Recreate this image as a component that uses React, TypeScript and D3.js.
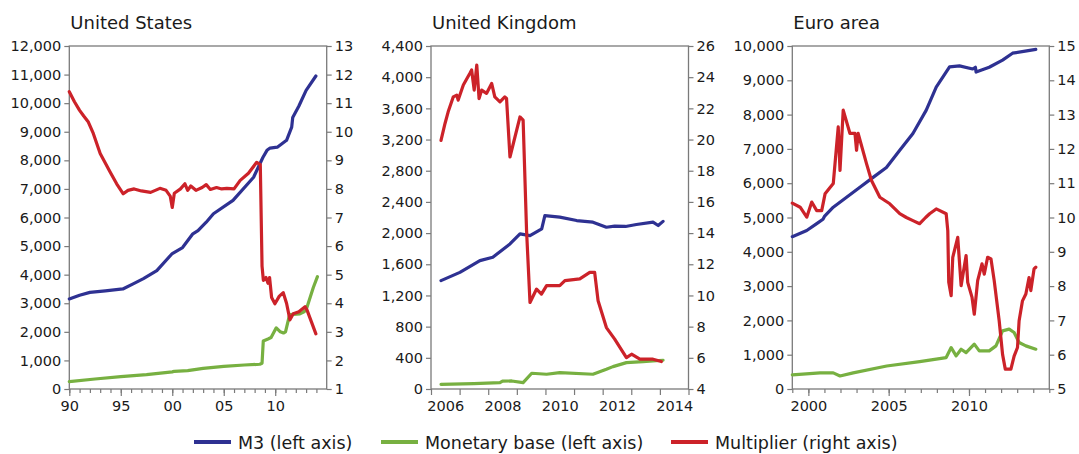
import * as d3 from "d3";
import React, { useEffect, useRef } from "react";

type Pt = [number, number];

// United States: M3 and monetary base (left axis), multiplier (right axis)
const usM3: Pt[] = [
  [1990, 3150], [1991, 3280], [1992, 3380], [1993.5, 3430], [1995.2, 3500], [1996.2, 3680],
  [1997.2, 3860], [1998.5, 4140], [2000, 4740], [2001, 4950], [2002, 5430], [2002.5, 5540],
  [2003.3, 5835], [2004, 6130], [2005.9, 6600], [2007.9, 7410], [2008.8, 8100], [2009.2, 8350],
  [2009.5, 8430], [2010.2, 8460], [2011.1, 8700], [2011.6, 9160], [2011.7, 9500], [2012.3, 9900],
  [2013, 10450], [2013.95, 10950],
];
const usBase: Pt[] = [
  [1990, 260], [1992.5, 350], [1995, 430], [1997.5, 500], [2000, 600], [2000.2, 620],
  [2001.5, 640], [2003, 720], [2005, 790], [2007, 840], [2008.5, 865], [2008.72, 900],
  [2008.84, 1680], [2009.3, 1750], [2009.6, 1800], [2010.1, 2140], [2010.5, 2000], [2010.8, 1960],
  [2011, 2000], [2011.4, 2600], [2012.4, 2630], [2012.7, 2680], [2013, 2760], [2013.7, 3550],
  [2014.1, 3930],
];
const usMult: Pt[] = [
  [1990, 11.4], [1990.5, 11.05], [1991, 10.75], [1991.4, 10.55], [1991.85, 10.34], [1992.33, 9.94],
  [1993, 9.24], [1993.95, 8.6], [1994.6, 8.18], [1995.24, 7.83], [1995.7, 7.95], [1996.3, 8.0],
  [1997, 7.93], [1997.9, 7.88], [1998.8, 8.02], [1999.4, 7.95], [1999.8, 7.75], [2000, 7.35],
  [2000.2, 7.85], [2000.8, 8.0], [2001.23, 8.18], [2001.5, 7.95], [2001.8, 8.1], [2002.3, 7.95],
  [2002.9, 8.05], [2003.3, 8.15], [2003.7, 7.98], [2004.3, 8.05], [2004.8, 8.0], [2005.3, 8.02],
  [2006, 8.0], [2006.6, 8.3], [2007.4, 8.55], [2008.2, 8.93], [2008.55, 8.85], [2008.72, 5.3],
  [2008.85, 4.8], [2009.1, 4.9], [2009.3, 4.7], [2009.45, 4.9], [2009.65, 4.2], [2009.97, 3.98],
  [2010.4, 4.25], [2010.78, 4.37], [2011.1, 4.0], [2011.43, 3.42], [2011.75, 3.63], [2012.3, 3.7],
  [2012.9, 3.88], [2013.1, 3.75], [2013.95, 2.93],
];

// United Kingdom
const ukM3: Pt[] = [
  [2006.35, 1390], [2007.01, 1496], [2007.71, 1647], [2008.16, 1690], [2008.76, 1861],
  [2009.11, 1990], [2009.46, 1968], [2009.87, 2054], [2009.98, 2225], [2010.5, 2204],
  [2011.09, 2161], [2011.66, 2140], [2012.13, 2075], [2012.42, 2090], [2012.8, 2085],
  [2013.18, 2110], [2013.76, 2140], [2013.94, 2097], [2014.11, 2150],
];
const ukBase: Pt[] = [
  [2006.35, 60], [2007.5, 70], [2008.41, 81], [2008.5, 100], [2008.82, 103], [2009.22, 81],
  [2009.52, 202], [2010.04, 189], [2010.5, 210], [2011.66, 189], [2012.13, 253], [2012.36, 287],
  [2012.83, 338], [2013.41, 351], [2014.11, 369],
];
const ukMult: Pt[] = [
  [2006.35, 19.95], [2006.49, 21.03], [2006.6, 21.78], [2006.78, 22.74], [2006.9, 22.85],
  [2006.95, 22.53], [2007.13, 23.5], [2007.36, 24.25], [2007.42, 24.46], [2007.51, 23.17],
  [2007.6, 24.78], [2007.68, 22.63], [2007.77, 23.17], [2007.94, 22.96], [2008.12, 23.6],
  [2008.23, 22.74], [2008.41, 22.42], [2008.58, 22.74], [2008.64, 22.64], [2008.76, 18.88],
  [2009.11, 21.45], [2009.22, 21.24], [2009.34, 14.16], [2009.46, 9.55], [2009.69, 10.41],
  [2009.86, 10.09], [2010.04, 10.63], [2010.5, 10.63], [2010.68, 10.95], [2011.2, 11.06],
  [2011.55, 11.48], [2011.72, 11.48], [2011.84, 9.66], [2012.13, 7.94], [2012.42, 7.2],
  [2012.83, 6.01], [2013.01, 6.23], [2013.3, 5.91], [2013.76, 5.91], [2014.05, 5.76],
];

// Euro area
const euM3: Pt[] = [
  [1999, 4440], [1999.9, 4620], [2000.52, 4820], [2000.91, 4950], [2001, 5030], [2001.55, 5300],
  [2002.38, 5590], [2003.21, 5880], [2004.03, 6170], [2004.86, 6460], [2005.69, 6960],
  [2006.51, 7450], [2007.34, 8130], [2007.96, 8800], [2008.79, 9390], [2009.41, 9420],
  [2010.23, 9330], [2010.4, 9380], [2010.44, 9240], [2011.26, 9380], [2012.09, 9590],
  [2012.71, 9790], [2013.5, 9850], [2014.16, 9900],
];
const euBase: Pt[] = [
  [1999, 410], [2000.73, 470], [2001.55, 470], [2001.97, 380], [2002.79, 470], [2004.88, 670],
  [2006.93, 800], [2008.58, 917], [2008.89, 1208], [2009.2, 965], [2009.51, 1160], [2009.82, 1061],
  [2010.33, 1307], [2010.64, 1111], [2011.26, 1111], [2011.68, 1257], [2012.09, 1696],
  [2012.5, 1745], [2012.81, 1646], [2013.12, 1354], [2013.54, 1257], [2014.16, 1160],
];
const euMult: Pt[] = [
  [1999, 10.42], [1999.49, 10.3], [1999.9, 10.01], [2000.21, 10.45], [2000.52, 10.2],
  [2000.83, 10.2], [2001.04, 10.69], [2001.55, 10.99], [2001.86, 12.64], [2001.97, 11.37],
  [2002.17, 13.13], [2002.59, 12.45], [2002.9, 12.45], [2003, 11.96], [2003.1, 12.45],
  [2003.62, 11.57], [2003.93, 11.08], [2004.45, 10.59], [2005.07, 10.4], [2005.69, 10.11],
  [2006.1, 10.0], [2006.51, 9.91], [2006.93, 9.82], [2007.3, 10.0], [2007.55, 10.11],
  [2007.96, 10.25], [2008.58, 10.11], [2008.68, 9.62], [2008.74, 8.11], [2008.89, 7.72],
  [2008.99, 8.84], [2009.3, 9.42], [2009.51, 8.01], [2009.82, 8.89], [2009.92, 8.11],
  [2010.19, 7.67], [2010.33, 7.18], [2010.54, 8.16], [2010.81, 8.65], [2010.95, 8.35],
  [2011.16, 8.84], [2011.37, 8.79], [2011.57, 8.16], [2011.88, 6.99], [2012.09, 6.01],
  [2012.26, 5.58], [2012.61, 5.58], [2012.81, 5.96], [2013.02, 6.21], [2013.12, 6.99],
  [2013.33, 7.57], [2013.54, 7.77], [2013.74, 8.25], [2013.85, 7.87], [2014.05, 8.5],
  [2014.16, 8.55],
];

const legendLabels = ["M3 (left axis)", "Monetary base (left axis)", "Multiplier (right axis)"];
const colors = ["#2e3192", "#77b041", "#cc2229"];

const FONT = "'DejaVu Sans', sans-serif";
const TOP = 46;
const BOTTOM = 389;
const AXIS = "#7a7a7a";
const INK = "#1a1a1a";

type Panel = {
  title: string;
  x0: number;
  x1: number;
  years: [number, number];
  left: [number, number, number];
  right: [number, number, number];
  series: Pt[][];
  minor: number[];
  major: number[];
  majorFmt: (d: number) => string;
  between: boolean;
};

const panels: Panel[] = [
  {
    title: "United States", x0: 69.3, x1: 326.7, years: [1990, 2015],
    left: [0, 12000, 1000], right: [1, 13, 1],
    series: [usM3, usBase, usMult],
    minor: d3.range(1990, 2015), major: [1990, 1995, 2000, 2005, 2010],
    majorFmt: (d) => String(d % 100).padStart(2, "0"), between: false,
  },
  {
    title: "United Kingdom", x0: 431, x1: 688.5, years: [2006, 2015],
    left: [0, 4400, 400], right: [4, 26, 2],
    series: [ukM3, ukBase, ukMult],
    minor: d3.range(2006, 2016), major: [2006, 2008, 2010, 2012, 2014],
    majorFmt: (d) => String(d), between: true,
  },
  {
    title: "Euro area", x0: 792.3, x1: 1049.3, years: [1999, 2015],
    left: [0, 10000, 1000], right: [5, 15, 1],
    series: [euM3, euBase, euMult],
    minor: d3.range(1999, 2016), major: [2000, 2005, 2010],
    majorFmt: (d) => String(d), between: false,
  },
];

function styleAxis(g: d3.Selection<SVGGElement, unknown, null, undefined>) {
  g.select(".domain").remove();
  g.selectAll(".tick line").attr("stroke", AXIS).attr("stroke-width", 1.2);
  g.selectAll(".tick text")
    .attr("fill", INK)
    .attr("font-family", FONT)
    .attr("font-size", 14.5);
}

export default function App() {
  const ref = useRef<SVGSVGElement>(null);

  useEffect(() => {
    const svg = d3.select(ref.current);
    svg.selectAll("*").remove();

    panels.forEach((p) => {
      const x = d3.scaleLinear().domain(p.years).range([p.x0, p.x1]);
      const yL = d3.scaleLinear().domain([p.left[0], p.left[1]]).range([BOTTOM, TOP]);
      const yR = d3.scaleLinear().domain([p.right[0], p.right[1]]).range([BOTTOM, TOP]);
      const g = svg.append("g");

      g.append("text")
        .text(p.title)
        .attr("x", p.x0 + 1)
        .attr("y", 29)
        .attr("font-family", FONT)
        .attr("font-size", 18)
        .attr("fill", INK);

      const leftAxis = d3.axisLeft(yL)
        .tickValues(d3.range(p.left[0], p.left[1] + 1, p.left[2]))
        .tickFormat(d3.format(",") as any)
        .tickSize(5).tickPadding(3);
      g.append("g").attr("transform", `translate(${p.x0},0)`).call(leftAxis).call(styleAxis);

      const rightAxis = d3.axisRight(yR)
        .tickValues(d3.range(p.right[0], p.right[1] + 0.001, p.right[2]))
        .tickFormat(d3.format("d") as any)
        .tickSize(5).tickPadding(3);
      g.append("g").attr("transform", `translate(${p.x1},0)`).call(rightAxis).call(styleAxis);

      const minorAxis = d3.axisBottom(x).tickValues(p.minor).tickFormat(() => "")
        .tickSize(p.between ? 6 : 4);
      g.append("g").attr("transform", `translate(0,${BOTTOM})`).call(minorAxis).call(styleAxis);

      const labelVals = p.between ? p.major.map((d) => d + 0.5) : p.major;
      const majorAxis = d3.axisBottom(x).tickValues(labelVals)
        .tickFormat((d) => p.majorFmt(Math.floor(+d)))
        .tickSize(p.between ? 0 : 7);
      const mg = g.append("g").attr("transform", `translate(0,${BOTTOM})`).call(majorAxis).call(styleAxis);
      mg.selectAll(".tick text").attr("y", 22).attr("dy", 0);

      g.append("rect")
        .attr("x", p.x0).attr("y", TOP)
        .attr("width", p.x1 - p.x0).attr("height", BOTTOM - TOP)
        .attr("fill", "none").attr("stroke", AXIS).attr("stroke-width", 1.3);

      p.series.forEach((s, i) => {
        const yScale = i === 2 ? yR : yL;
        const line = d3.line<Pt>().x((d) => x(d[0])).y((d) => yScale(d[1]));
        g.append("path")
          .datum(s)
          .attr("d", line)
          .attr("fill", "none")
          .attr("stroke", colors[i])
          .attr("stroke-width", 3.2)
          .attr("stroke-linejoin", "round")
          .attr("stroke-linecap", "round");
      });
    });

    const legendX = [194, 381, 671];
    const leg = svg.append("g");
    legendLabels.forEach((label, i) => {
      leg.append("line")
        .attr("x1", legendX[i]).attr("x2", legendX[i] + 37)
        .attr("y1", 442).attr("y2", 442)
        .attr("stroke", colors[i]).attr("stroke-width", 4);
      leg.append("text")
        .text(label)
        .attr("x", legendX[i] + 44)
        .attr("y", 449)
        .attr("font-family", FONT)
        .attr("font-size", 17.5)
        .attr("fill", INK);
    });
  }, []);

  return (
    <svg
      ref={ref}
      width={1079}
      height={454}
      style={{ position: "absolute", left: 0, top: 0, background: "#fff" }}
    />
  );
}
